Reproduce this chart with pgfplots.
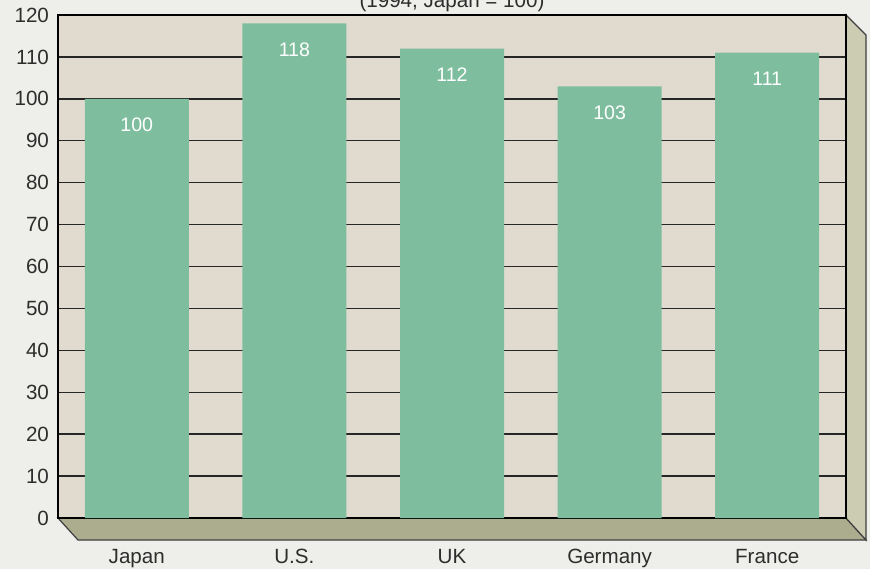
\documentclass[border=0pt]{standalone}
\usepackage{fontspec}
\setmainfont{Liberation Sans}
\usepackage{pgfplots}
\pgfplotsset{compat=1.18}
\definecolor{pagebg}{RGB}{238,238,234}
\definecolor{plotbg}{RGB}{224,219,206}
\definecolor{bargreen}{RGB}{126,190,158}
\definecolor{floorc}{RGB}{172,172,143}
\definecolor{wallc}{RGB}{204,204,178}
\definecolor{txt}{RGB}{45,45,45}
\begin{document}
\begin{tikzpicture}
\fill[pagebg] (0,0) rectangle (435pt,-284.5pt);
% floor and right wall
\filldraw[fill=floorc, draw=black!75, line width=0.6pt] (29pt,-259pt) -- (423pt,-259pt) -- (433pt,-270pt) -- (39pt,-270pt) -- cycle;
\filldraw[fill=wallc, draw=black!75, line width=0.6pt] (423pt,-7.5pt) -- (433pt,-17.5pt) -- (433pt,-270pt) -- (423pt,-259pt) -- cycle;
\begin{axis}[
  at={(29pt,-259pt)}, anchor=south west,
  scale only axis, width=394pt, height=251.5pt,
  xmin=-0.5, xmax=4.5, ymin=0, ymax=120,
  ytick={0,10,...,120},
  xtick={0,1,2,3,4},
  xticklabels={Japan,U.S.,UK,Germany,France},
  major tick length=0pt,
  ymajorgrids,
  grid style={black!85, line width=0.7pt},
  axis background/.style={fill=plotbg},
  axis line style={black, line width=1pt},
  ybar, bar width=52pt,
  ticklabel style={font=\fontsize{10.3}{12}\selectfont, text=txt},
  yticklabel style={xshift=-1pt},
  xticklabel style={yshift=-12pt},
  /pgf/number format/assume math mode=true,
  nodes near coords,
  nodes near coords style={text=white, anchor=center, yshift=-13pt, font=\fontsize{9.8}{12}\selectfont},
]
\addplot[fill=bargreen, draw=none] coordinates {(0,100) (1,118) (2,112) (3,103) (4,111)};
\end{axis}
\node[anchor=base, font=\fontsize{10.3}{12}\selectfont, text=txt] at (226pt,-3.5pt) {(1994, Japan = 100)};
\pgfresetboundingbox
\path[use as bounding box] (0,0) rectangle (435pt,-284.5pt);
\end{tikzpicture}
\end{document}
